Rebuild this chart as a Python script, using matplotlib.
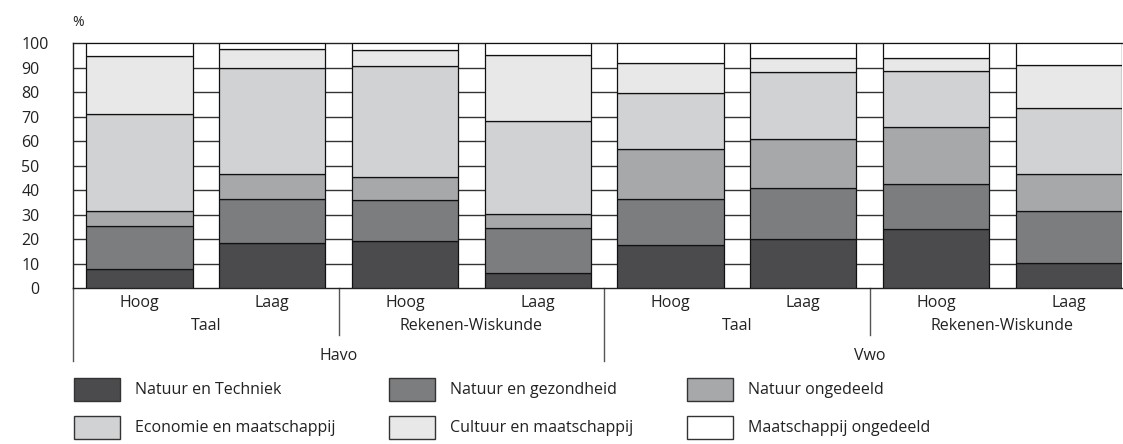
import matplotlib.pyplot as plt
from matplotlib.patches import Rectangle
from matplotlib.transforms import ScaledTranslation

plt.rcParams['font.family'] = ['Open Sans', 'DejaVu Sans']

# Gegevens (percentages per profiel)
niveaus = ['Hoog', 'Laag', 'Hoog', 'Laag', 'Hoog', 'Laag', 'Hoog', 'Laag']
vakken = ['Taal', 'Rekenen-Wiskunde', 'Taal', 'Rekenen-Wiskunde']
schooltypes = ['Havo', 'Vwo']

profielen = ['Natuur en Techniek', 'Natuur en gezondheid', 'Natuur ongedeeld',
             'Economie en maatschappij', 'Cultuur en maatschappij', 'Maatschappij ongedeeld']
kleuren = ['#4b4b4d', '#7c7d7f', '#a7a8aa', '#d1d2d4', '#e8e8e8', '#ffffff']

natuur_techniek = [7.8, 18.4, 19.2, 6.0, 17.4, 20.2, 24.0, 10.4]
natuur_gezondheid = [17.4, 18.0, 16.8, 18.7, 19.0, 20.8, 18.5, 21.2]
natuur_ongedeeld = [6.1, 10.1, 9.5, 5.7, 20.4, 20.0, 23.2, 15.1]
economie_maatschappij = [39.7, 43.6, 45.4, 38.0, 22.9, 27.1, 23.1, 26.7]
cultuur_maatschappij = [23.7, 7.6, 6.4, 26.7, 12.4, 6.0, 5.3, 17.7]
maatschappij_ongedeeld = [5.3, 2.3, 2.7, 4.9, 7.9, 5.9, 5.9, 8.9]

reeksen = [natuur_techniek, natuur_gezondheid, natuur_ongedeeld,
           economie_maatschappij, cultuur_maatschappij, maatschappij_ongedeeld]

fig = plt.figure(figsize=(11.23, 4.44), dpi=100)
ax = fig.add_axes([0.065, 0.3514, 0.9341, 0.5511])

x = list(range(len(niveaus)))
onder = [0.0] * len(x)
for waarden, kleur in zip(reeksen, kleuren):
    ax.bar(x, waarden, width=0.8, bottom=onder, color=kleur,
           edgecolor='#111111', linewidth=0.9, zorder=3)
    onder = [o + w for o, w in zip(onder, waarden)]

ax.set_xlim(-0.5, 7.4)
ax.set_ylim(0, 100)
ax.set_yticks(range(0, 101, 10))
ax.tick_params(axis='y', length=0, pad=24, labelsize=11.5, labelcolor='#222222')
ax.tick_params(axis='x', length=0, labelbottom=False)
for y in range(10, 100, 10):
    ax.axhline(y, color='#333333', linewidth=1, zorder=1)

for kant in ['left', 'bottom', 'top']:
    ax.spines[kant].set_color('#222222')
    ax.spines[kant].set_linewidth(1)
ax.spines['right'].set_visible(False)

# "100" staat iets verder naar rechts
lbl100 = ax.get_yticklabels()[-1]
lbl100.set_transform(lbl100.get_transform() + ScaledTranslation(9 / 100, 0, fig.dpi_scale_trans))

fig.text(78 / 1123, 1 - 23 / 444, '%', fontsize=10, ha='center', va='center', color='#222222')

# categorie-as onder de staven
tr = ax.get_xaxis_transform()
for i, niveau in enumerate(niveaus):
    ax.text(i, -0.062, niveau, transform=tr, ha='center', va='center', fontsize=11.5, color='#222222')
for j, vak in enumerate(vakken):
    ax.text(2 * j + 0.5, -0.155, vak, transform=tr, ha='center', va='center', fontsize=11.5, color='#222222')
for k, st in enumerate(schooltypes):
    ax.text(4 * k + 1.5, -0.28, st, transform=tr, ha='center', va='center', fontsize=11.5, color='#222222')

for xs in [1.5, 5.5]:
    ax.plot([xs, xs], [0, -0.192], transform=tr, color='#555555', linewidth=1, clip_on=False)
for xs in [-0.5, 3.5]:
    ax.plot([xs, xs], [0, -0.3], transform=tr, color='#555555', linewidth=1, clip_on=False)

# legenda
kolom_x = [74, 389, 687]
rij_y = [389.5, 427.5]
for n, (naam, kleur) in enumerate(zip(profielen, kleuren)):
    r, c = divmod(n, 3)
    x0 = kolom_x[c]
    yc = rij_y[r]
    fig.add_artist(Rectangle((x0 / 1123, 1 - (yc + 11.5) / 444), 46 / 1123, 23 / 444,
                             transform=fig.transFigure, facecolor=kleur,
                             edgecolor='#333333', linewidth=1))
    fig.text((x0 + 61) / 1123, 1 - yc / 444, naam, fontsize=11.5, ha='left', va='center',
             color='#222222')

fig.savefig('out.png', dpi=100)
